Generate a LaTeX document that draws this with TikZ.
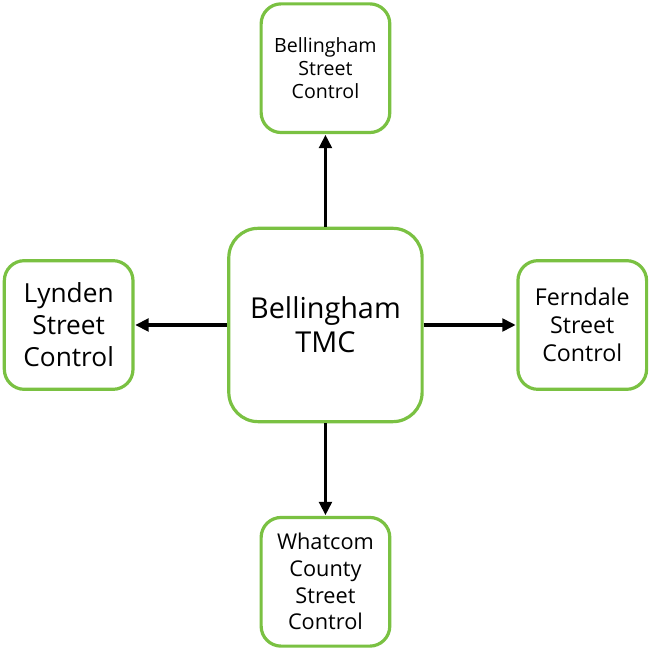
\documentclass[tikz,border=0pt]{standalone}
\usepackage{fontspec}
\setmainfont{Open Sans}
\usepackage{tikz}
\usetikzlibrary{positioning,arrows.meta}
\definecolor{boxgreen}{RGB}{122,193,66}

\begin{document}
\begin{tikzpicture}[node distance=192.6pt,on grid,
    box/.style={draw=boxgreen,line width=2.4pt,rounded corners=15pt,fill=white,
      align=center,inner sep=0pt,minimum width=96.5pt,minimum height=96.5pt},
    link/.style={-{Triangle[length=10pt,width=9.5pt]},line width=2.3pt,shorten >=0.5pt}]
    \useasboundingbox (-244.1pt,-243pt) rectangle (243.4pt,243.75pt);
    \node[box,rounded corners=22pt,minimum width=145pt,minimum height=145pt,
      font=\fontsize{21.6}{25.5}\selectfont] (tmc) {Bellingham\\TMC};
    \node[box,font=\fontsize{14.7}{17}\selectfont] (bsc) [above = of tmc] {Bellingham\\Street\\Control};
    \node[box,font=\fontsize{19.7}{24}\selectfont] (lsc) [left = of tmc] {Lynden\\Street\\Control};
    \node[box,font=\fontsize{17.4}{21}\selectfont] (fsc) [right = of tmc] {Ferndale\\Street\\Control};
    \node[box,font=\fontsize{16.3}{20}\selectfont] (wsc) [below = of tmc] {Whatcom\\County\\Street\\Control};
    \draw[link] (tmc) -- (bsc);
    \draw[link] (tmc) -- (lsc);
    \draw[link] (tmc) -- (fsc);
    \draw[link] (tmc) -- (wsc);
  \end{tikzpicture}
\end{document}
